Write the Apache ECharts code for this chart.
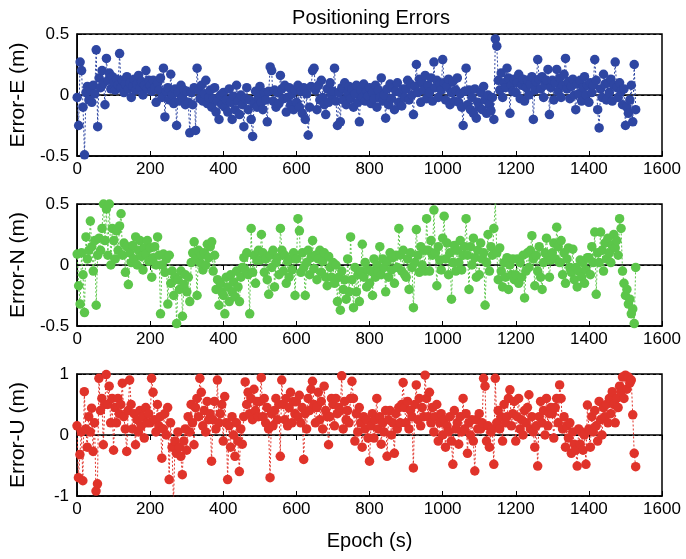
<!DOCTYPE html>
<html>
<head>
<meta charset="utf-8">
<title>Positioning Errors</title>
<script src="https://cdn.jsdelivr.net/npm/echarts@6/dist/echarts.min.js"></script>
<style>
  html, body { margin: 0; padding: 0; background: #fff; }
  #chart { width: 686px; height: 559px; }
</style>
</head>
<body>
<div id="chart"></div>
<script>
// epochs sampled every 4 s (0 .. 1528)
var epochs = [];
for (var t = 0; t <= 1528; t += 4) epochs.push(t);

// East error (m), one row = 100 s
var errE = [
  -0.02,-0.25,0.27,0.2,-0.1, -0.49,0.02,0.07,-0.04,0.05, -0.06,0.08,0.01,0.37,-0.26, 0.14,0.06,0.2,0.1,-0.08, 0.3,0.12,0.18,0.05,0.15,
  0.1,0.04,0.13,0.08,0.34, 0.06,0.12,0.02,0.09,0.15, 0.05,0.1,-0.02,0.07,0.13, 0.04,0.09,0.16,0.06,0.11, 0.0,0.08,0.2,0.05,0.12,
  0.08,0.03,0.12,0.06,-0.06, 0.1,0.04,0.14,-0.02,0.22, -0.18,0.03,0.06,-0.04,0.17, 0.0,-0.07,0.05,-0.25,0.02, -0.05,0.08,-0.02,0.04,-0.08,
  0.03,-0.06,-0.31,0.02,-0.08, 0.06,-0.29,0.22,0.04,-0.03, 0.08,-0.05,0.01,0.12,-0.07, -0.02,0.04,-0.1,-0.03,0.06, -0.14,-0.05,-0.2,0.0,-0.08,
  0.02,-0.1,-0.04,-0.14,0.05, -0.06,-0.2,-0.01,-0.12,0.08, -0.05,-0.16,0.0,-0.08,-0.26, -0.03,0.06,-0.12,-0.04,-0.2, -0.34,-0.07,0.03,-0.1,-0.02,
  0.07,-0.06,-0.12,0.02,-0.04, -0.22,0.03,0.23,0.2,-0.05, 0.04,-0.1,0.02,-0.07,0.16, 0.05,-0.03,0.08,-0.14,-0.02, 0.06,-0.08,0.01,-0.12,0.04,
  -0.06,0.08,-0.1,0.03,-0.15, 0.06,-0.2,0.01,-0.33,-0.1, 0.07,0.2,0.22,0.04,-0.12, 0.08,-0.04,0.12,-0.02,-0.08, -0.16,0.05,-0.06,0.1,0.0,
  0.03,0.22,-0.05,-0.25,0.02, -0.22,0.06,-0.04,0.1,-0.08, 0.02,0.07,-0.03,0.05,-0.1, 0.01,0.08,-0.06,-0.22,0.04, -0.02,0.09,-0.05,0.03,-0.01,
  0.06,-0.07,0.02,-0.03,0.08, -0.1,0.04,-0.02,0.14,-0.05, 0.0,-0.19,0.05,-0.08,0.09, -0.03,0.06,-0.12,0.03,0.1, -0.06,0.02,-0.09,0.05,-0.02,
  0.05,0.12,-0.04,0.09,0.0, -0.16,0.07,0.25,0.02,0.13, -0.06,0.1,0.04,0.16,-0.03, 0.08,0.02,0.14,-0.05,0.27, 0.06,0.12,-0.02,0.09,0.04,
  0.29,0.1,-0.04,0.07,0.13, -0.08,0.02,0.11,-0.05,0.04, 0.14,-0.06,0.01,-0.1,-0.25, 0.03,0.22,-0.08,0.04,-0.12, -0.02,-0.15,0.05,-0.19,-0.06,
  -0.1,0.02,-0.12,0.07,-0.04, -0.15,0.0,-0.08,-0.13,-0.02, -0.2,0.46,0.4,0.12,0.04, 0.18,-0.02,0.1,0.06,0.22, 0.14,-0.15,0.08,0.03,0.13,
  0.02,0.1,0.17,-0.03,0.08, 0.13,-0.05,0.06,0.12,0.0, 0.09,0.15,-0.2,0.04,0.11, 0.29,0.13,0.05,0.15,-0.02, 0.08,0.12,0.21,-0.16,0.06,
  0.12,-0.04,0.1,0.21,0.03, 0.14,-0.02,0.08,0.17,0.3, 0.05,0.11,-0.03,0.07,0.13, 0.0,-0.12,0.09,0.01,0.12, -0.05,0.06,0.15,0.0,0.08,
  -0.06,0.1,0.02,0.08,0.29, 0.12,-0.12,-0.27,0.05,-0.02, 0.17,0.09,-0.04,0.1,0.02, 0.13,-0.05,0.08,0.27,0.06, -0.02,0.1,0.03,-0.08,0.05,
  -0.25,-0.1,-0.15,-0.04,0.08,-0.22,0.25,-0.12
];

// North error (m)
var errN = [
  0.09,-0.17,-0.32,0.1,-0.08, -0.39,0.23,0.05,0.12,0.36, 0.15,-0.05,0.2,-0.33,0.08, 0.22,0.12,0.3,0.5,0.2, 0.46,0.08,0.5,0.0,0.3,
  0.2,0.05,0.28,0.12,0.32, 0.42,0.08,0.18,-0.06,0.15, -0.16,0.1,0.02,0.16,0.05, 0.23,0.0,0.12,0.2,0.07, -0.04,0.14,0.09,0.2,0.03,
  0.14,-0.1,0.06,0.15,0.0, 0.23,0.08,-0.4,0.0,0.09, -0.06,0.05,-0.32,0.08,-0.15, -0.05,-0.25,-0.1,-0.48,-0.12, -0.2,-0.05,-0.42,-0.16,-0.08,
  -0.22,-0.1,-0.3,0.02,0.1, 0.19,0.05,-0.25,0.12,0.02, 0.08,-0.04,0.1,0.0,0.17, 0.06,0.15,0.19,-0.05,0.08, -0.2,-0.12,-0.33,-0.15,-0.22,
  -0.25,-0.4,-0.1,-0.18,-0.3, -0.08,-0.22,-0.14,-0.26,-0.05, -0.18,-0.3,-0.1,-0.02,0.06, -0.04,0.1,-0.08,-0.4,0.3, -0.06,0.08,-0.15,0.04,0.12,
  0.04,0.25,0.1,-0.06,0.05, -0.12,-0.24,0.08,-0.02,0.12, -0.18,0.02,0.06,-0.08,0.3, 0.12,-0.05,0.08,-0.15,0.03, -0.1,0.05,-0.04,0.1,-0.25,
  0.05,0.38,0.28,-0.06,0.1, -0.02,-0.25,0.02,0.12,-0.08, 0.06,0.2,-0.03,0.08,-0.12, 0.05,0.12,-0.06,0.03,0.1, -0.1,-0.17,0.07,-0.02,-0.1,
  0.02,-0.15,0.0,-0.3,-0.1, -0.37,-0.05,-0.2,-0.12,-0.28, 0.05,-0.22,0.23,-0.12,-0.35, -0.02,-0.22,-0.08,-0.3,-0.05, 0.17,-0.1,0.02,-0.18,-0.04,
  -0.15,-0.05,-0.25,0.05,-0.1, 0.0,-0.06,0.15,-0.08,0.05, -0.02,-0.22,0.03,-0.1,0.1, -0.04,0.06,-0.15,0.08,-0.02, 0.3,0.08,-0.05,0.12,-0.08,
  -0.1,0.05,-0.2,0.1,-0.02, -0.35,0.02,0.29,0.08,-0.06, 0.15,0.0,0.12,-0.05,0.38, 0.12,-0.05,0.2,0.08,0.45, 0.1,-0.17,0.15,0.04,-0.04,
  0.22,0.4,0.05,0.18,-0.08, 0.1,-0.28,0.02,0.16,-0.05, 0.12,0.02,0.2,-0.04,0.08, 0.15,0.38,0.08,-0.2,0.15, 0.0,0.22,0.06,-0.1,0.12,
  -0.08,0.18,0.05,0.1,-0.33, 0.02,0.25,-0.05,0.15,0.08, 0.3,0.52,0.1,-0.12,0.14, -0.05,-0.18,0.02,-0.1,0.06, -0.2,0.0,-0.08,0.05,-0.12,
  -0.08,0.05,-0.15,0.02,-0.1, 0.08,-0.27,-0.05,0.1,-0.02, 0.12,0.24,0.05,-0.17,0.08, -0.05,0.15,-0.1,-0.2,0.02, 0.1,0.22,0.06,-0.1,0.04,
  0.1,0.18,0.05,0.31,0.15, 0.02,0.2,-0.08,0.1,-0.15, 0.05,0.14,-0.02,-0.06,0.13, -0.12,-0.02,-0.18,-0.05,0.04, -0.1,0.02,-0.15,-0.04,0.06,
  0.06,-0.08,0.15,0.02,0.27, -0.24,0.1,0.02,0.27,0.12, -0.05,0.18,0.05,0.22,0.1, 0.02,0.16,0.25,0.14,0.2, 0.08,0.38,0.3,-0.05,-0.15,
  -0.25,-0.2,-0.32,-0.28,-0.4,-0.36,-0.48,-0.02
];

// Up error (m)
var errU = [
  0.15,-0.7,-0.32,0.05,-0.75, 0.71,0.1,-0.2,0.3,0.05, 0.44,-0.27,0.2,-0.92,-0.8, 0.93,0.4,0.6,-0.16,0.5, 0.99,0.5,0.8,0.2,0.6,
  -0.25,0.45,0.2,0.6,0.35, 0.5,0.85,0.3,0.1,-0.27, 0.4,0.9,0.5,0.1,0.35, -0.16,0.25,0.05,0.4,0.15, 0.3,-0.05,0.45,0.2,0.35,
  0.2,0.93,0.7,0.25,0.05, 0.5,0.15,0.3,-0.38,0.1, 0.35,0.0,0.45,-0.73,0.2, -0.2,-1.15,-0.1,-0.3,0.05, -0.2,-0.35,-0.65,-0.1,0.1,
  -0.25,0.3,0.05,0.5,0.2, -0.16,0.45,0.6,0.3,0.93, 0.7,0.15,0.4,0.05,0.55, 0.25,0.35,-0.43,0.25,0.55, 0.1,0.9,0.2,0.35,0.5,
  -0.1,0.63,0.2,-0.73,0.15, -0.2,0.3,0.0,-0.35,0.2, -0.1,-0.6,0.1,-0.15,0.3, 0.87,0.5,0.7,0.35,0.6, 0.25,0.75,0.4,0.55,0.3,
  0.55,0.94,0.3,0.6,0.2, 0.45,0.1,-0.7,0.35,0.15, 0.4,0.6,0.25,0.5,-0.35, 0.9,0.5,0.25,0.6,0.15, 0.45,0.7,0.2,0.55,0.35,
  0.55,0.3,0.65,0.2,0.45, -0.4,0.35,0.1,0.6,0.4, 0.75,0.88,0.5,0.2,0.45, 0.7,0.25,0.55,0.1,0.8, 0.4,0.3,-0.16,0.3,0.6,
  0.5,0.15,0.6,0.35,0.45, 0.4,0.97,0.1,0.55,0.25, 0.4,0.2,0.6,0.88,0.6, -0.1,0.35,0.05,0.45,0.2, -0.2,0.3,0.1,0.25,-0.05,
  -0.43,0.15,0.35,-0.05,0.25, 0.6,0.1,0.3,-0.15,0.2, 0.05,0.4,-0.35,0.25,0.4, 0.0,0.2,-0.3,0.35,0.1, 0.45,0.2,0.5,0.86,0.45,
  0.2,0.55,0.1,0.4,0.3, -0.54,0.5,0.82,0.25,0.6, 0.15,0.45,0.3,0.98,0.6, 0.3,0.7,0.2,0.45,0.05, 0.3,0.5,-0.1,0.2,0.35,
  0.0,0.25,-0.2,0.15,0.05, 0.3,-0.1,-0.48,0.4,0.1, 0.2,-0.15,0.3,0.05,0.6, 0.1,0.35,-0.3,0.2,0.0, 0.25,-0.1,-0.59,0.25,0.1,
  0.35,0.1,0.2,0.93,0.8, -0.1,0.15,-0.2,0.05,0.1, -0.48,0.93,0.2,0.4,0.1, 0.3,-0.1,0.5,0.2,0.3, 0.6,0.74,0.15,0.35,0.55,
  -0.1,0.3,0.6,0.1,0.25, 0.0,0.4,0.2,0.45,0.66, 0.1,0.3,0.05,-0.2,0.15, -0.51,0.3,0.55,0.2,0.4, 0.0,0.6,0.15,0.35,0.45,
  0.35,-0.05,0.45,0.6,0.2, 0.82,0.6,0.1,0.3,-0.2, 0.15,-0.05,0.2,-0.3,0.05, -0.15,-0.25,-0.51,0.1,-0.15, 0.05,-0.25,0.0,-0.48,0.49,
  0.1,-0.2,0.3,0.05,0.4, 0.15,-0.1,0.55,0.25,0.0, 0.45,0.3,0.5,0.2,0.6, 0.35,0.71,0.5,0.2,0.6, 0.45,0.8,0.7,0.95,0.6,
  0.98,0.75,0.95,0.85,0.9,0.33,-0.3,-0.52
];

var panelNames = ['Error-E (m)', 'Error-N (m)', 'Error-U (m)'];
var panelColors = ['#2E46A2', '#5CC64A', '#E0332A'];
var panelRanges = [[-0.5, 0.5, 0.5], [-0.5, 0.5, 0.5], [-1, 1, 1]];
var panelData = [errE, errN, errU];

(function () {
  var myChart = echarts.init(document.getElementById('chart'));
  var font = 'Liberation Sans, Arial, Helvetica, sans-serif';
  var tops = [34, 204, 374];

  var grids = [], xAxes = [], yAxes = [], series = [];
  for (var i = 0; i < 3; i++) {
    grids.push({
      left: 74, right: 24, top: tops[i], height: 122,
      show: true, borderColor: '#000', borderWidth: 1.5
    });
    // bottom axis with labels
    xAxes.push({
      gridIndex: i, type: 'value', min: 0, max: 1600, interval: 200,
      name: i === 2 ? 'Epoch (s)' : '',
      nameLocation: 'middle', nameGap: 35,
      nameTextStyle: { fontSize: 20, color: '#000', fontFamily: font },
      axisLine: { onZero: false, lineStyle: { color: '#000', width: 1.5 } },
      axisTick: { inside: true, length: 5, lineStyle: { color: '#000' } },
      axisLabel: {
        fontSize: 17, color: '#000', margin: 5, fontFamily: font,
        formatter: function (v) { return String(v); }
      },
      splitLine: { show: false }
    });
    // top axis, ticks only
    xAxes.push({
      gridIndex: i, type: 'value', position: 'top', min: 0, max: 1600, interval: 200,
      axisLine: { lineStyle: { color: '#000', width: 1.5 } },
      axisTick: { inside: true, length: 5, lineStyle: { color: '#000' } },
      axisLabel: { show: false },
      splitLine: { show: false }
    });
    var r = panelRanges[i];
    yAxes.push({
      gridIndex: i, type: 'value', min: r[0], max: r[1], interval: r[2],
      name: panelNames[i], nameLocation: 'middle', nameGap: 48,
      nameTextStyle: { fontSize: 21, color: '#000', fontFamily: font },
      axisLine: { onZero: false, lineStyle: { color: '#000', width: 1.5 } },
      axisTick: { inside: true, length: 5, lineStyle: { color: '#000' } },
      axisLabel: { fontSize: 17, color: '#000', margin: 8, fontFamily: font },
      splitLine: { show: true, lineStyle: { color: '#000', width: 1, type: [3, 3] } }
    });

    var vals = panelData[i], pts = [];
    for (var k = 0; k < vals.length && k < epochs.length; k++) {
      pts.push([epochs[k], vals[k]]);
    }
    series.push({
      type: 'line', xAxisIndex: i * 2, yAxisIndex: i,
      data: pts, clip: true,
      symbol: 'circle', symbolSize: 9.5, showSymbol: true, showAllSymbol: true,
      itemStyle: { color: panelColors[i] },
      lineStyle: { color: panelColors[i], width: 1, type: [2, 2] },
      animation: false
    });
  }

  var option = {
    animation: false,
    backgroundColor: '#fff',
    title: {
      text: 'Positioning Errors', left: 366, top: 3, textAlign: 'center',
      textStyle: { fontSize: 20, fontWeight: 'normal', color: '#000', fontFamily: font }
    },
    grid: grids,
    xAxis: xAxes,
    yAxis: yAxes,
    series: series
  };
  myChart.setOption(option);
})();
</script>
</body>
</html>
